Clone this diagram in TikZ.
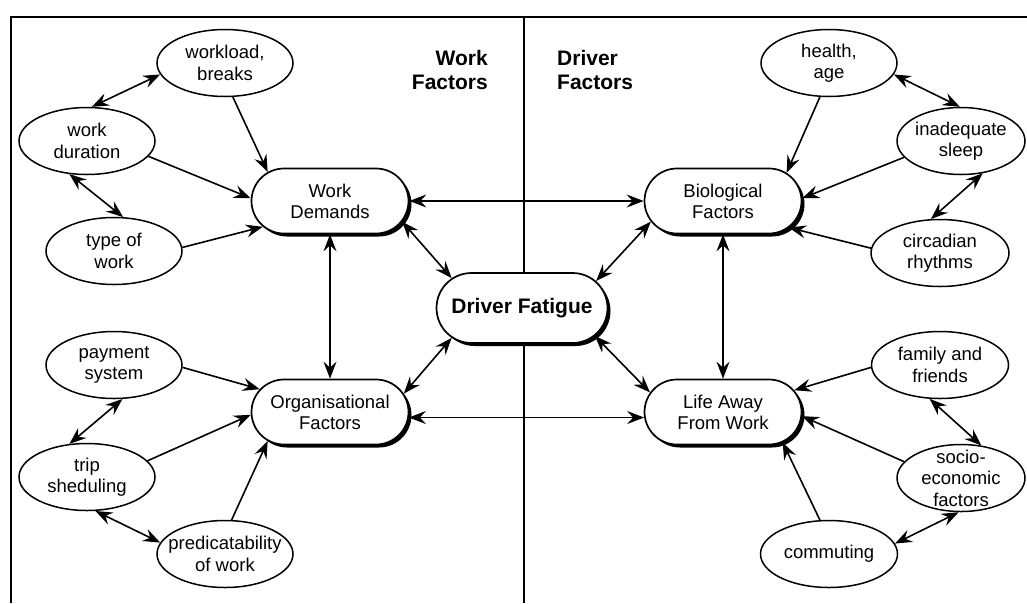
\documentclass[tikz,border=0pt]{standalone}
\usepackage{fontspec}
\setmainfont{Liberation Sans}
\usetikzlibrary{arrows.meta,shapes.geometric,shapes.misc,shadows}
\begin{document}
\begin{tikzpicture}[x=1pt,y=-1pt,
  el/.style={ellipse,draw,fill=white,line width=1.5pt,inner xsep=-25pt,inner ysep=-12pt,
    minimum width=136pt,minimum height=67pt,align=center,font=\fontsize{18.5}{21.5}\selectfont},
  box/.style={rounded rectangle,draw,fill=white,line width=1.7pt,inner xsep=-20pt,inner ysep=0pt,
    minimum width=117pt,minimum height=65pt,align=center,font=\fontsize{18.5}{21}\selectfont,
    drop shadow={shadow xshift=3pt,shadow yshift=-3pt,opacity=1,fill=black}},
  tip/.tip={Stealth[length=17pt,width=13pt,inset=6pt]},
  lnk/.style={line width=1.6pt,-tip},
  dlnk/.style={line width=1.6pt,tip-tip},
  head/.style={inner sep=0pt,font=\bfseries\fontsize{21}{24}\selectfont}]
\useasboundingbox (0,0) rectangle (1027,603);
\draw[line width=1.8pt] (11,603) -- (11,17) -- (1027,17);
\draw[line width=1.8pt] (524,17) -- (524,603);

\node[head,anchor=north east,align=right] (wf) at (488,50) {Work\\Factors};
\node[head,anchor=north west,align=left] (dfac) at (557,50) {Driver\\Factors};

\node[box] (wd) at (330,201) {Work\\Demands};
\node[box] (org) at (330,412) {Organisational\\Factors};
\node[box] (bf) at (723,201) {Biological\\Factors};
\node[box] (la) at (723,412) {Life Away\\From Work};
\node[box,minimum width=131pt,minimum height=70pt,font=\bfseries\fontsize{21}{24}\selectfont] (df) at (522,308) {Driver Fatigue};

\node[el] (wl) at (225,63) {workload,\\breaks};
\node[el] (wdur) at (87,141) {work\\duration};
\node[el] (tow) at (114,251) {type of\\work};
\node[el] (pay) at (114,365) {payment\\system};
\node[el] (trip) at (87,477) {trip\\sheduling};
\node[el] (pred) at (225,554) {predicatability\\of work};
\node[el] (hea) at (829,63) {health,\\age};
\node[el,minimum width=128pt] (sleep) at (961,141) {inadequate\\sleep};
\node[el,minimum width=138pt] (circ) at (940,253) {circadian\\rhythms};
\node[el,minimum width=137pt] (fam) at (940,365) {family and\\friends};
\node[el,minimum width=128pt] (soc) at (961,478) {socio-\\economic\\factors};
\node[el,minimum width=137pt] (com) at (829,554) {commuting};

\draw[lnk] (wl.-77) -- (wd.155);
\draw[lnk] (wdur.-14) -- (wd.178);
\draw[lnk] (tow.3) -- (wd.201);
\draw[dlnk] (wl.190) -- (wdur.82);
\draw[dlnk] (wdur.242) -- (tow.75);
\draw[dlnk] (wd) -- (bf);
\draw[dlnk] (wd.-16) -- (df.157);
\draw[dlnk] (wd) -- (org);
\draw[dlnk] (org.14) -- (df.203);
\draw[dlnk] (org.-4.5) -- (la.184.5);
\draw[dlnk] (bf.196) -- (df.20);
\draw[dlnk] (la.165) -- (df.-21);
\draw[dlnk] (bf) -- (la);
\draw[lnk] (pay.-2) -- (org.162);
\draw[lnk] (trip.15) -- (org.182);
\draw[lnk] (pred.79) -- (org.205);
\draw[dlnk] (pay.284) -- (trip.118);
\draw[dlnk] (trip.-76) -- (pred.170);
\draw[lnk] (hea.255) -- (bf.24);
\draw[lnk] (sleep.196) -- (bf.2);
\draw[lnk] (circ.176) -- (bf.-22);
\draw[dlnk] (hea.-10) -- (sleep.92);
\draw[dlnk] (sleep.-56) -- (circ.105);
\draw[lnk] (fam.182) -- (la.17);
\draw[lnk] (soc.164) -- (la.-3.5);
\draw[lnk] (com.105) -- (la.-27);
\draw[dlnk] (fam.253) -- (soc.58);
\draw[dlnk] (soc.266) -- (com.9);
\end{tikzpicture}
\end{document}
